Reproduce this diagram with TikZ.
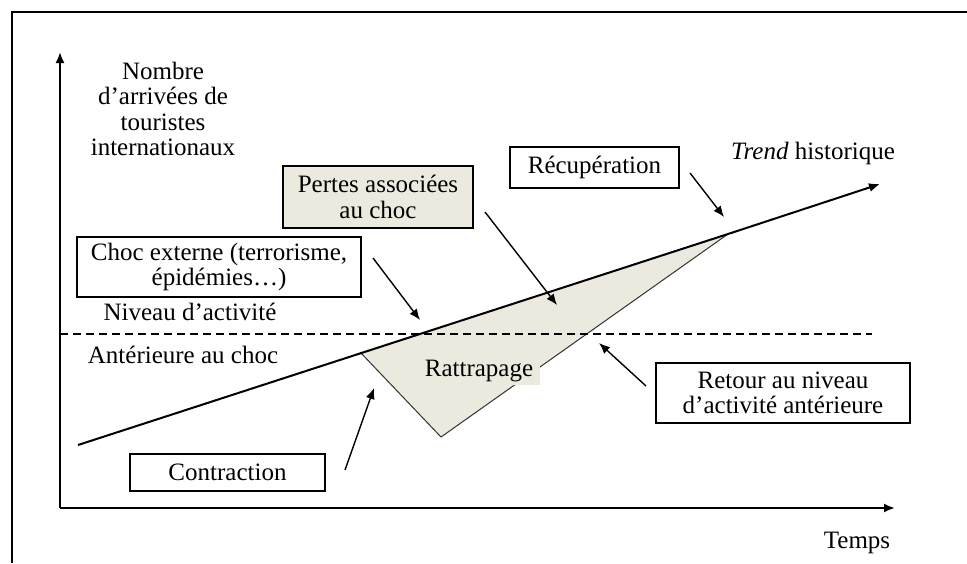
\documentclass[tikz,border=0pt]{standalone}
\usepackage{fontspec}
\setmainfont{Liberation Serif}
\usetikzlibrary{arrows.meta}
\definecolor{lossfill}{RGB}{236,233,223}
\tikzstyle{whitebox} = [rectangle, draw=black, line width=0.7pt, fill=white, align=center, inner sep=0pt]
\tikzstyle{greybox} = [whitebox, fill=lossfill]
\tikzstyle{txt} = [align=center, inner sep=0pt]
\tikzstyle{axis} = [line width=1pt, -{Latex[length=5.5pt, width=4.5pt]}]
\tikzstyle{pointer} = [line width=0.7pt, -{Latex[length=5.5pt, width=4.5pt]}]

\begin{document}
\begin{tikzpicture}[x=0.5pt, y=-0.5pt, font=\fontsize{12.5}{12.8}\selectfont]
	\useasboundingbox (0,0) rectangle (967,563);
	\draw [line width=1.3pt] (12,563) -- (12,12) -- (967,12);

	% axes
	\coordinate (origin) at (60,508);
	\coordinate (ytop) at (60,52);
	\coordinate (xend) at (895,508);
	\draw [axis] (origin) -- (ytop);
	\draw [axis] (origin) -- (xend);

	% shock triangle
	\coordinate (start) at (78,445);
	\coordinate (shock) at (360,352);
	\coordinate (bottom) at (441,437);
	\coordinate (recovery) at (728,234);
	\coordinate (trendend) at (880,184);
	\fill [lossfill] (shock) -- (bottom) -- (recovery) -- cycle;
	\draw [line width=0.5pt, black!80] (shock) -- (bottom) -- (recovery);
	\node (rattrapage) [txt, fill=lossfill, minimum width=61pt, minimum height=14pt] at (479,371) {Rattrapage};

	% previous level
	\coordinate (levelA) at (60,334);
	\coordinate (levelB) at (872,334);
	\draw [line width=0.6pt, dash pattern=on 4pt off 2.5pt] (levelA) -- (levelB);

	% historical trend
	\draw [line width=1pt] (start) -- (recovery);
	\draw [axis] (recovery) -- (trendend);

	% texts
	\node (yname) [txt] at (163,109) {Nombre\\d'arrivées de\\touristes\\internationaux};
	\node (trend) [txt] at (813,153) {\textit{Trend} historique};
	\node (niveau) [txt] at (190,312) {Niveau d'activité};
	\node (anterieure) [txt] at (183,355) {Antérieure au choc};
	\node (temps) [txt] at (857,543) {Temps};

	% boxes
	\node (pertes) [greybox, minimum width=95pt, minimum height=31pt] at (378,197) {Pertes associées\\au choc};
	\node (choc) [whitebox, minimum width=142pt, minimum height=30pt] at (219,267) {Choc externe (terrorisme,\\épidémies\dots)};
	\node (recup) [whitebox, minimum width=84.5pt, minimum height=20.5pt] at (594.5,167.5) {Récupération};
	\node (retour) [whitebox, minimum width=127pt, minimum height=30pt] at (783,393) {Retour au niveau\\d'activité antérieure};
	\node (contraction) [whitebox, minimum width=97.5pt, minimum height=18.5pt] at (227.5,472.5) {Contraction};

	% pointers
	\coordinate (chocA) at (373,258);
	\coordinate (chocB) at (420,320);
	\coordinate (pertesA) at (485,212);
	\coordinate (pertesB) at (557,305);
	\coordinate (recupA) at (690,173);
	\coordinate (recupB) at (724,217);
	\coordinate (retourA) at (646,386);
	\coordinate (retourB) at (599,343);
	\coordinate (contrA) at (345,470);
	\coordinate (contrB) at (374,388);
	\draw [pointer] (chocA) -- (chocB);
	\draw [pointer] (pertesA) -- (pertesB);
	\draw [pointer] (recupA) -- (recupB);
	\draw [pointer] (retourA) -- (retourB);
	\draw [pointer] (contrA) -- (contrB);
\end{tikzpicture}
\end{document}
